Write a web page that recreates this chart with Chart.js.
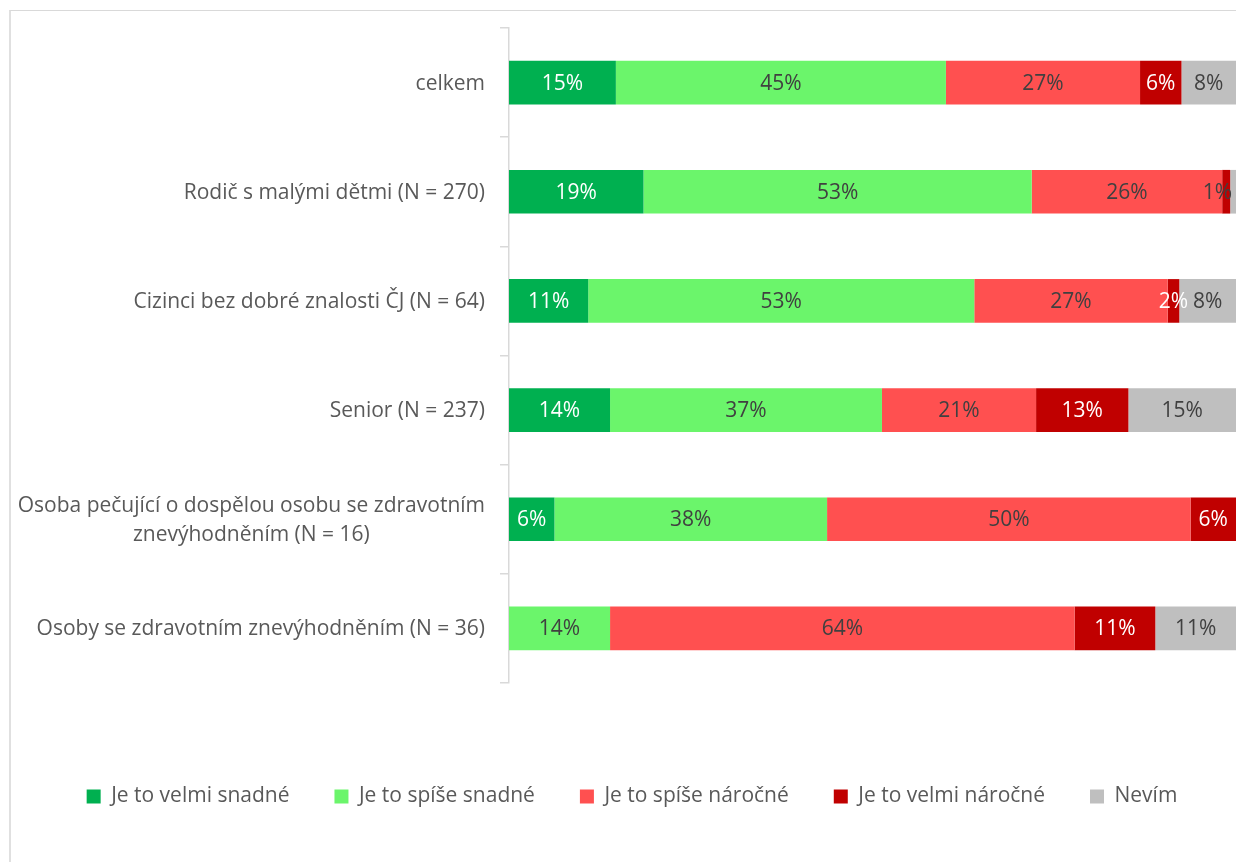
<!DOCTYPE html>
<html>
<head>
<meta charset="utf-8">
<script src="https://cdn.jsdelivr.net/npm/chart.js@4.4.1/dist/chart.umd.min.js"></script>
<style>
  html, body { margin: 0; padding: 0; background: #ffffff; overflow: hidden; }
  #frame { position: absolute; left: 9px; top: 10px; width: 1300px; height: 900px;
           border-left: 2px solid #e0e0e0; border-top: 1px solid #d9d9d9; }
  #c { position: absolute; left: 0; top: 0; }
</style>
</head>
<body>
<div id="frame"></div>
<canvas id="c" width="1236" height="862"></canvas>
<script>
const categories = [
  'celkem',
  'Rodič s malými dětmi (N = 270)',
  'Cizinci bez dobré znalosti ČJ (N = 64)',
  'Senior (N = 237)',
  ['Osoba pečující o dospělou osobu se zdravotním', 'znevýhodněním (N = 16)'],
  'Osoby se zdravotním znevýhodněním (N = 36)'
];
const seriesNames = ['Je to velmi snadné', 'Je to spíše snadné', 'Je to spíše náročné', 'Je to velmi náročné', 'Nevím'];
const velmiSnadne  = [14.7, 18.5, 10.9, 13.9, 6.25, 0];
const spiseSnadne  = [45.4, 53.4, 53.1, 37.4, 37.5, 13.9];
const spiseNarocne = [26.7, 26.2, 26.6, 21.2, 50.0, 63.9];
const velmiNarocne = [5.7, 1.1, 1.6, 12.7, 6.25, 11.1];
const nevim        = [7.5, 0.8, 7.8, 14.8, 0, 11.1];

const seriesColors = ['#00B050', '#6BF56B', '#FF5050', '#C00000', '#BFBFBF'];
const labelColors  = ['#ffffff', '#404040', '#404040', '#ffffff', '#404040'];
const FONT = '"Open Sans", sans-serif';
const FS = 21;
const TEXT = '#595959';

const datasets = [velmiSnadne, spiseSnadne, spiseNarocne, velmiNarocne, nevim].map((d, i) => ({
  label: seriesNames[i],
  data: d,
  backgroundColor: seriesColors[i],
  borderWidth: 0,
  categoryPercentage: 1.0,
  barPercentage: 0.4
}));

const yLabelsPlugin = {
  id: 'yLabels',
  afterDraw(chart) {
    const ctx = chart.ctx;
    const ys = chart.scales.y;
    const right = chart.chartArea.left - 24;
    ctx.save();
    ctx.font = FS + 'px ' + FONT;
    ctx.fillStyle = TEXT;
    ctx.textBaseline = 'middle';
    categories.forEach((c, i) => {
      const lines = Array.isArray(c) ? c : [c];
      const y = ys.getPixelForValue(i);
      const w = Math.max(...lines.map(l => ctx.measureText(l).width));
      const cx = right - w / 2;
      const lh = 29;
      ctx.textAlign = 'center';
      lines.forEach((l, k) => {
        ctx.fillText(l, cx, y + 1 + (k - (lines.length - 1) / 2) * lh);
      });
    });
    ctx.restore();
  }
};

const valueLabelsPlugin = {
  id: 'valueLabels',
  afterDatasetsDraw(chart) {
    const ctx = chart.ctx;
    ctx.save();
    ctx.font = FS + 'px ' + FONT;
    ctx.textAlign = 'center';
    ctx.textBaseline = 'middle';
    chart.data.datasets.forEach((ds, di) => {
      const meta = chart.getDatasetMeta(di);
      meta.data.forEach((bar, i) => {
        const v = ds.data[i];
        if (!v || v < 1) return;
        const txt = Math.round(v) + '%';
        const tw = ctx.measureText(txt).width;
        const segW = Math.abs(bar.x - bar.base);
        let cx = (bar.x + bar.base) / 2;
        if (cx + tw / 2 > chart.chartArea.right) cx = chart.chartArea.right - tw / 2 - 4;
        ctx.fillStyle = segW < 10 ? '#404040' : labelColors[di];
        ctx.fillText(txt, cx, bar.y + 1);
      });
    });
    ctx.restore();
  }
};

new Chart(document.getElementById('c'), {
  type: 'bar',
  data: { labels: categories, datasets },
  options: {
    indexAxis: 'y',
    responsive: false,
    animation: false,
    layout: { padding: { top: 28, left: 28, right: 0, bottom: 45 } },
    scales: {
      x: {
        stacked: true, min: 0, max: 100,
        display: true,
        ticks: { display: false },
        grid: { display: false },
        border: { display: false },
        afterFit(s) { s.height = 58; }
      },
      y: {
        stacked: true,
        ticks: { display: false },
        grid: { display: true, drawOnChartArea: false, drawTicks: true, tickLength: 9, color: '#d9d9d9', lineWidth: 1.5, offset: true },
        border: { display: true, color: '#d9d9d9', width: 1.5 },
        afterFit(s) { s.width = 481; }
      }
    },
    plugins: {
      legend: {
        position: 'bottom',
        labels: {
          boxWidth: 14, boxHeight: 14, padding: 45,
          color: TEXT,
          font: { family: FONT, size: FS }
        }
      },
      tooltip: { enabled: false }
    }
  },
  plugins: [yLabelsPlugin, valueLabelsPlugin]
});
</script>
</body>
</html>
